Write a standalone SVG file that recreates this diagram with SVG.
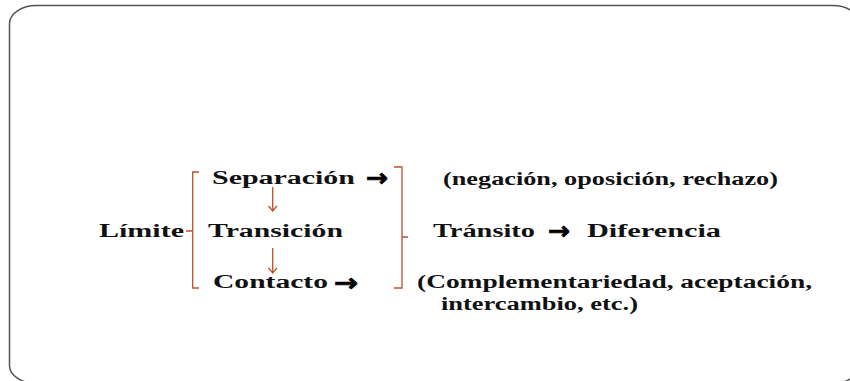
<svg xmlns="http://www.w3.org/2000/svg" width="850" height="381" viewBox="0 0 850 381">
<style>
.t{font-family:"Liberation Serif","DejaVu Serif",serif;font-weight:bold;font-size:18px;fill:#111}
.br{fill:none;stroke:#C0502A;stroke-width:1.3}
.ar{font-family:"DejaVu Sans",sans-serif;font-weight:bold;font-size:24px;fill:#000;stroke:#000;stroke-width:0.8}
</style>
<rect x="9.5" y="5.5" width="850" height="378" rx="27" ry="18" fill="#fff" stroke="#555" stroke-width="1.5"/>
<g id="limite"><text class="t" x="99" y="237" textLength="85" lengthAdjust="spacingAndGlyphs">Límite</text></g>
<g id="separacion"><text class="t" x="212" y="184" textLength="143" lengthAdjust="spacingAndGlyphs">Separación</text>
<text class="ar" x="366" y="186" textLength="22" lengthAdjust="spacingAndGlyphs">→</text></g>
<g id="transicion"><text class="t" x="208" y="237" textLength="135" lengthAdjust="spacingAndGlyphs">Transición</text></g>
<g id="contacto"><text class="t" x="213" y="288" textLength="115" lengthAdjust="spacingAndGlyphs">Contacto</text>
<text class="ar" x="334" y="291" textLength="24" lengthAdjust="spacingAndGlyphs">→</text></g>
<g id="negacion"><text class="t" x="443" y="185" textLength="335" lengthAdjust="spacingAndGlyphs">(negación, oposición, rechazo)</text></g>
<g id="transito"><text class="t" x="433" y="237" textLength="102" lengthAdjust="spacingAndGlyphs">Tránsito</text>
<text class="ar" x="548" y="239" textLength="22" lengthAdjust="spacingAndGlyphs">→</text>
<text class="t" x="587" y="237" textLength="134" lengthAdjust="spacingAndGlyphs">Diferencia</text></g>
<g id="complementariedad"><text class="t" x="417" y="288" textLength="395" lengthAdjust="spacingAndGlyphs">(Complementariedad, aceptación,</text>
<text class="t" x="441" y="310" textLength="197" lengthAdjust="spacingAndGlyphs">intercambio, etc.)</text></g>
<g id="connectors">
<path class="br" d="M199,172 H192.7 V288 H199 M192.7,231 H186"/>
<path class="br" d="M394,167 H402 V288 H394 M402,237 H408"/>
<path class="br" d="M272.7,187 V211 M268.5,206 L272.7,211 L276.9,206"/>
<path class="br" d="M272.7,248 V273 M268.5,268 L272.7,273 L276.9,268"/>
</g>
</svg>
